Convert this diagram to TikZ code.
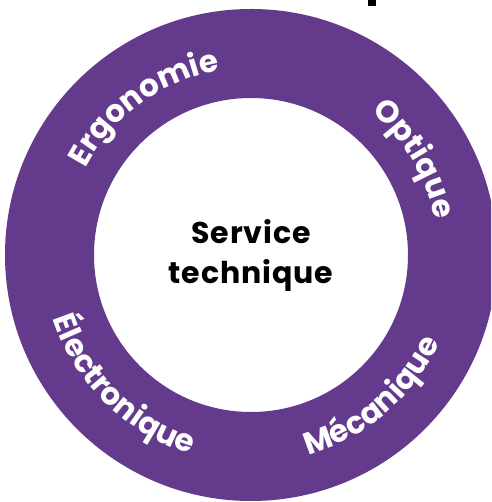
\documentclass[tikz,border=0pt]{standalone}
\usepackage{fontspec}
\setmainfont{Poppins}
\usepackage{tikz}
\usetikzlibrary{positioning,decorations.text}

\definecolor{ringviolet}{RGB}{99,58,140}

\begin{document}
\begin{tikzpicture}[
    x=1pt, y=1pt,
    ring/.style={fill=ringviolet, even odd rule},
    title/.style={font=\bfseries\fontsize{30}{34}\selectfont\addfontfeatures{LetterSpace=3}, text=black, inner sep=0pt, anchor=base},
    arctext/.style={decorate, decoration={text along path, text align=center, text color=white,
        text={|\bfseries\fontsize{31}{31}\selectfont\addfontfeatures{LetterSpace=4}|#1}}}
]
    \useasboundingbox (0,0) rectangle (491,502);
    \clip (0,0) rectangle (491,502);
    \coordinate (c) at (251,247);

    % ring
    \fill [ring] (c) circle [radius=246pt] (c) circle [radius=157pt];

    % cut title
    \fill [black] (368,496) rectangle (376,502);

    % centre
    \node [title] (service) at (251,258) {Service};
    \node [title] (technique) at ([yshift=-40pt]service.base) {technique};

    % texts on the ring
    \path [arctext=Ergonomie] (c) ++(170:187pt) arc [start angle=170, end angle=82, radius=187pt];
    \path [arctext=Optique] (c) ++(75:187pt) arc [start angle=75, end angle=-14, radius=187pt];
    \path [arctext=Mécanique] (c) ++(-95:208pt) arc [start angle=-95, end angle=-4, radius=208pt];
    \path [arctext=Électronique] (c) ++(180:208pt) arc [start angle=180, end angle=271, radius=208pt];
\end{tikzpicture}
\end{document}
